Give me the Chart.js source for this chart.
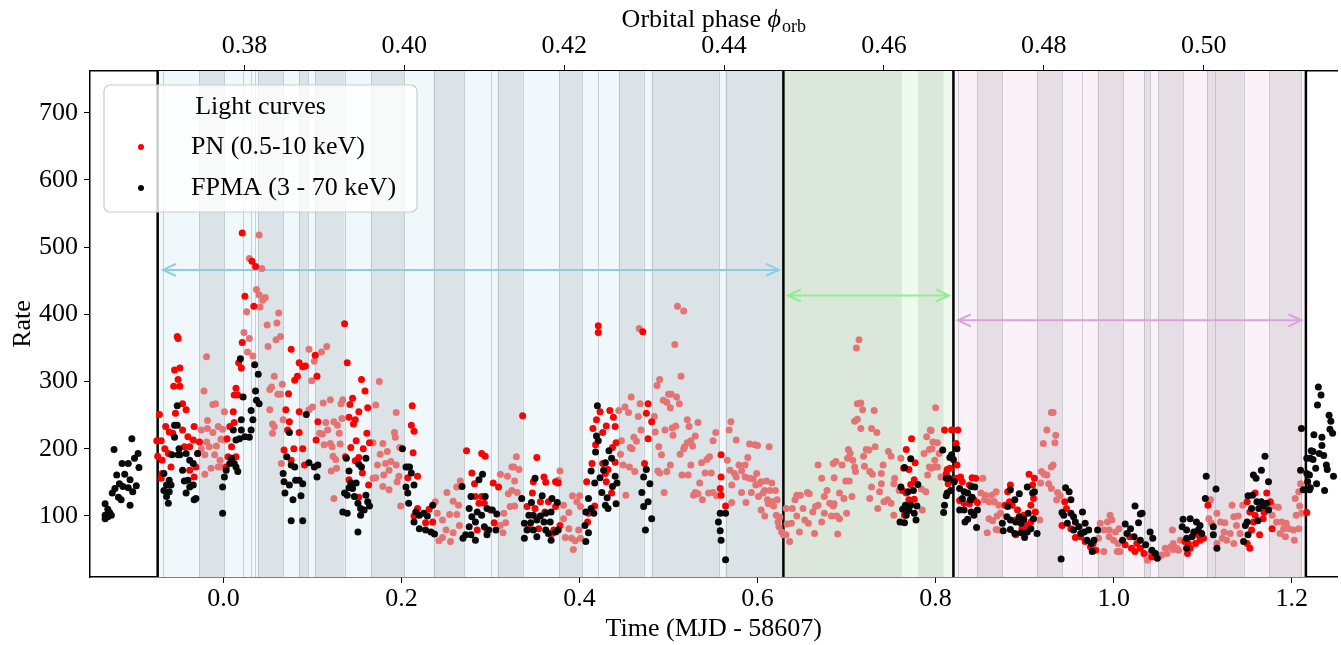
<!DOCTYPE html>
<html>
<head>
<meta charset="utf-8">
<script src="https://cdn.jsdelivr.net/npm/chart.js@4.4.1/dist/chart.umd.min.js"></script>
<style>
  html, body { margin: 0; padding: 0; background: #fff; }
  #c { display: block; }
</style>
</head>
<body>
<canvas id="c" width="1341" height="645"></canvas>
<script>
// axis ranges and ticks
const timeMin = -0.150, timeMax = 1.2515;
const rateMin = 9.2, rateMax = 762;
const timeTicks = [0.0, 0.2, 0.4, 0.6, 0.8, 1.0, 1.2];
const phaseTicks = [0.38, 0.40, 0.42, 0.44, 0.46, 0.48, 0.50];
const rateTicks = [100, 200, 300, 400, 500, 600, 700];
// orbital phase = phaseZero + phasePerDay * time
const phaseZero = 0.37738, phasePerDay = 0.11136;

// segment boundaries (time) and the darker sub-intervals inside each
const segLines = [-0.074, 0.629, 0.820, 1.216];
const blueBands = [[-0.027,0.001],[0.039,0.067],[0.085,0.095],[0.103,0.136],[0.166,0.203],[0.236,0.270],[0.308,0.336],[0.377,0.403],[0.444,0.472],[0.481,0.557],[0.564,0.629]];
const greenLight = [[0.762,0.780],[0.809,0.819]];
const pinkBands = [[0.847,0.875],[0.914,0.942],[0.982,1.011],[1.034,1.041],[1.050,1.078],[1.105,1.146],[1.175,1.211]];
const thinLines = [-0.068, 0.022, 0.031, 0.035, 0.301, 0.421, 0.825, 0.965, 1.114];
// arrows: [from, to, rate]
const arrowSpans = [[-0.068, 0.624, 466], [0.634, 0.815, 428], [0.825, 1.211, 391]];

// PN (0.5-10 keV) simultaneous points [time, rate]
const pnBright = [
[-0.072,251],[-0.075,212],[-0.070,212],[-0.074,189],[-0.069,183],[-0.065,233],[-0.061,225],[-0.066,200],[-0.062,193],[-0.057,223],[-0.052,367],[-0.051,364],[-0.055,317],[-0.049,320],[-0.056,293],[-0.049,293],[-0.051,303],[-0.046,267],[-0.042,258],[-0.054,253],[-0.046,228],[-0.040,218],[-0.038,203],[-0.044,203],[-0.034,213],[-0.033,233],[-0.031,173],[-0.029,193],[-0.059,173],[-0.069,163],[-0.070,156],[-0.038,168],[-0.033,158],[-0.027,210],[0.014,290],[0.012,280],[0.016,280],[0.011,255],[0.007,233],[0.012,239],[0.004,215],[0.009,203],[0.005,188],[0.014,188],[0.003,173],[0.020,320],[0.017,328],[0.021,521],[0.024,427],[0.034,412],[0.021,358],[0.032,479],[0.036,471],[0.073,282],[0.076,348],[0.085,328],[0.080,302],[0.083,308],[0.089,322],[0.070,258],[0.074,240],[0.085,255],[0.072,228],[0.085,224],[0.068,198],[0.079,200],[0.089,200],[0.076,183],[0.091,176],
[0.136,386],[0.139,328],[0.155,303],[0.159,286],[0.145,275],[0.142,266],[0.152,255],[0.162,261],[0.141,247],[0.148,243],[0.146,237],[0.161,223],[0.149,212],[0.143,202],[0.157,200],[0.164,209],[0.152,187],[0.148,182],[0.137,188],[0.156,164],[0.141,154],[0.163,146],[0.152,128],[0.212,264],[0.211,235],[0.214,226],[0.213,194],[0.207,173],[0.218,159],[0.207,157],[0.092,323],[0.103,339],[0.105,308],[0.106,240],[0.104,213],
[0.273,197],[0.290,193],[0.294,189],[0.279,164],[0.282,148],[0.303,149],[0.309,143],[0.287,119],[0.293,119],[0.290,129],[0.283,129],[0.300,109],[0.304,90],[0.285,79],[0.296,78],[0.218,111],[0.231,110],[0.227,90],[0.235,91],[0.214,100],
[0.336,249],[0.352,187],[0.348,151],[0.360,158],[0.362,150],[0.373,151],[0.376,149],[0.347,134],[0.356,121],[0.365,121],[0.341,114],[0.350,111],[0.361,106],[0.373,114],[0.343,81],[0.354,81],[0.371,79],[0.378,86],[0.369,74],
[0.421,383],[0.421,373],[0.423,255],[0.434,257],[0.419,243],[0.430,234],[0.438,247],[0.440,233],[0.415,230],[0.426,224],[0.418,206],[0.437,202],[0.441,209],[0.414,178],[0.426,178],[0.440,180],[0.432,169],[0.429,163],[0.408,151],[0.430,151],[0.436,134],[0.410,104],[0.417,115],[0.409,91],
[0.477,267],[0.475,253],[0.481,240],[0.477,215],[0.473,178],[0.471,374],[0.559,191],[0.559,158],[0.558,141],[0.559,131],[0.564,115],
[0.773,215],[0.767,199],[0.777,179],[0.770,169],[0.764,171],[0.776,154],[0.772,147],[0.763,138],[0.767,134],[0.770,124],[0.776,125],[0.769,114],[0.765,101],
[0.810,228],[0.818,228],[0.825,228],[0.823,208],[0.824,176],[0.813,169],[0.816,171],[0.812,163],[0.814,148],[0.823,156],[0.828,158],[0.830,151],[0.841,157],[0.845,156],[0.838,146],[0.847,120],[0.832,119],[0.838,118],[0.843,124],[0.827,123],
[0.884,146],[0.881,136],[0.883,121],[0.878,116],[0.886,116],[0.892,109],[0.899,101],[0.890,94],[0.899,90],[0.903,86],[0.890,72],[0.897,81],[0.905,162],[0.911,156],[0.909,146],[0.910,126],[0.907,116],[0.912,106],[0.907,91],
[0.945,121],[0.947,111],[0.942,86],[0.952,81],[0.957,68],[0.963,69],[0.968,62],[0.974,54],[0.977,59],[0.980,49],[1.013,57],[1.020,52],[1.024,47],[1.030,52],[1.018,69],[1.026,59],
[1.034,44],[1.043,39],[1.083,44],[1.086,52],[1.092,59],[1.097,64],[1.101,67],[1.084,59],[1.080,62],[1.095,72],[1.106,116],[1.153,52],[1.150,59],[1.155,79],[1.164,72],[1.157,91],[1.159,101],[1.153,106],[1.168,96],[1.172,134],[1.159,134],[1.150,121],[1.176,121],[1.169,105],[1.178,81],[1.217,105]
];

// PN points outside the NuSTAR coverage (drawn faint)
const pnFaint = [
[0.040,518],[0.029,483],[0.043,468],[0.037,437],[0.040,429],[0.044,421],[0.047,425],[0.041,411],[0.026,404],[0.023,373],[0.029,364],[0.027,344],[0.033,338],[-0.019,337],[0.049,384],[0.062,402],[0.060,387],[0.064,367],[0.050,352],[0.057,308],[0.054,292],[0.052,288],[0.061,281],[0.066,296],[0.064,281],[0.052,258],[0.055,237],[0.057,233],[0.055,223],[-0.022,286],[-0.012,266],[-0.009,267],[0.001,255],[-0.018,242],[-0.025,228],[-0.018,230],[-0.012,224],[-0.006,233],[-0.001,229],[0.001,213],[-0.003,214],[-0.019,210],[-0.025,200],[-0.016,203],[-0.008,204],[-0.021,191],[-0.010,191],[-0.004,183],[-0.006,173],[-0.014,171],[-0.021,162],[-0.003,173],[0.067,243],[0.065,178],[0.059,362],
[0.096,348],[0.110,344],[0.116,352],[0.102,330],[0.099,301],[0.100,262],[0.096,258],[0.112,268],[0.120,273],[0.134,273],[0.132,267],[0.133,245],[0.115,239],[0.124,240],[0.128,235],[0.117,228],[0.108,223],[0.111,222],[0.130,223],[0.120,208],[0.113,206],[0.122,203],[0.131,207],[0.123,189],[0.126,184],[0.127,171],[0.121,167],[0.175,300],[0.171,265],[0.168,209],[0.179,208],[0.176,192],[0.184,196],[0.192,224],[0.194,254],[0.193,217],[0.198,202],[0.173,176],[0.182,178],[0.188,181],[0.194,176],[0.186,168],[0.180,161],[0.168,156],[0.171,157],[0.197,159],[0.179,144],[0.186,139],[0.195,151],[0.199,115],[0.124,126],
[0.238,121],[0.251,135],[0.258,122],[0.262,143],[0.266,152],[0.264,116],[0.240,104],[0.246,94],[0.254,102],[0.262,102],[0.250,79],[0.258,75],[0.242,63],[0.246,68],[0.255,62],[0.265,86],[0.311,162],[0.319,159],[0.324,173],[0.320,133],[0.324,138],[0.315,104],[0.311,86],[0.317,90],[0.314,75],[0.322,114],
[0.329,188],[0.326,173],[0.332,169],[0.327,152],[0.330,135],[0.327,115],[0.378,167],[0.376,153],[0.382,116],[0.392,130],[0.400,130],[0.397,121],[0.401,114],[0.388,105],[0.382,96],[0.388,81],[0.384,68],[0.391,67],[0.395,63],[0.393,50],[0.399,79],[0.401,67],
[0.444,257],[0.451,262],[0.455,254],[0.458,277],[0.466,248],[0.468,267],[0.447,212],[0.446,192],[0.449,176],[0.456,173],[0.461,217],[0.464,211],[0.457,202],[0.459,200],[0.469,228],[0.462,166],[0.452,131],[0.467,379],
[0.485,225],[0.487,294],[0.490,303],[0.494,272],[0.498,269],[0.502,261],[0.500,281],[0.503,281],[0.509,277],[0.512,267],[0.514,308],[0.510,412],[0.517,405],[0.507,355],[0.489,203],[0.492,191],[0.496,228],[0.504,231],[0.508,234],[0.505,220],[0.502,176],[0.488,167],[0.490,164],[0.498,166],[0.495,135],[0.484,248],[0.513,192],[0.515,161],[0.518,203],[0.521,209],[0.525,212],[0.523,233],[0.521,243],[0.517,200],[0.527,204],[0.530,219],[0.533,239],[0.522,161],[0.525,176],[0.535,149],[0.530,135],[0.528,131],[0.538,124],[0.537,179],[0.543,184],[0.546,188],[0.541,164],[0.548,164],[0.550,212],[0.553,224],[0.545,134],[0.550,135],[0.554,130],[0.533,133],
[0.570,240],[0.568,228],[0.576,213],[0.566,183],[0.591,207],[0.597,206],[0.600,205],[0.613,203],[0.589,187],[0.579,176],[0.586,176],[0.569,168],[0.574,163],[0.582,167],[0.576,158],[0.586,158],[0.591,156],[0.599,163],[0.595,155],[0.604,151],[0.610,152],[0.616,149],[0.571,146],[0.598,146],[0.602,148],[0.582,135],[0.593,135],[0.608,138],[0.614,138],[0.620,138],[0.601,129],[0.606,134],[0.611,124],[0.616,121],[0.622,124],[0.571,120],[0.587,120],[0.612,118],[0.618,115],[0.604,109],[0.608,100],[0.621,101],[0.625,98],[0.623,91],[0.624,84],[0.627,76],[0.629,72],
[0.632,111],[0.639,111],[0.644,131],[0.642,124],[0.648,131],[0.656,135],[0.658,133],[0.633,88],[0.636,62],[0.632,72],[0.638,89],[0.644,100],[0.651,111],[0.653,94],[0.657,89],[0.647,76],[0.664,74],[0.662,106],[0.665,114],[0.668,116],[0.672,156],[0.668,176],[0.675,104],[0.672,91],[0.675,129],[0.678,138],[0.681,119],[0.685,115],[0.683,100],[0.686,118],[0.685,178],[0.688,181],[0.686,157],[0.690,73],[0.689,100],[0.692,96],[0.692,134],[0.697,126],[0.700,104],[0.695,176],[0.701,186],[0.702,199],[0.704,193],[0.707,183],[0.709,173],[0.710,166],[0.699,152],[0.703,152],[0.706,129],[0.711,350],[0.714,362],[0.712,267],[0.716,268],[0.718,258],[0.709,241],[0.712,244],[0.716,230],[0.731,257],[0.728,230],[0.734,224],[0.722,199],[0.719,189],[0.725,198],[0.732,203],[0.720,174],[0.726,166],[0.729,162],[0.728,143],[0.739,163],[0.741,176],[0.739,148],[0.737,136],[0.726,126],[0.742,121],[0.735,111],[0.746,124],[0.750,119],[0.747,196],[0.750,189],[0.754,156],[0.753,148],[0.753,101],[0.761,186],[0.785,109],[0.784,140],[0.789,136],[0.787,193],[0.790,218],[0.795,227],[0.793,199],[0.791,161],[0.795,171],[0.759,138],
[0.800,261],[0.794,228],[0.797,210],[0.802,209],[0.796,200],[0.804,193],[0.799,183],[0.793,173],[0.799,173],[0.802,173],[0.806,158],
[0.853,156],[0.851,134],[0.856,131],[0.863,131],[0.868,136],[0.855,124],[0.860,121],[0.866,121],[0.871,116],[0.860,96],[0.864,93],[0.869,100],[0.873,104],[0.858,75],[0.870,79],[0.868,80],
[0.930,254],[0.932,254],[0.925,228],[0.921,208],[0.935,220],[0.934,209],[0.932,176],[0.930,173],[0.919,166],[0.922,162],[0.925,161],[0.918,149],[0.927,148],[0.930,141],[0.937,135],[0.940,130],[0.936,124],[0.917,94],
[0.985,89],[0.993,91],[0.996,101],[0.998,94],[0.989,79],[0.995,79],[1.002,76],[1.006,81],[0.995,69],[1.000,64],[1.005,59],[0.983,67],[0.989,47],[1.004,47],[1.007,47],
[1.038,34],[1.041,44],[1.051,39],[1.054,42],[1.060,44],[1.058,52],[1.064,54],[1.067,59],[1.071,52],[1.073,49],[1.075,64],[1.066,79],[1.067,50],[1.109,124],[1.107,96],[1.110,89],[1.116,104],[1.120,91],[1.125,90],[1.133,116],[1.135,99],[1.138,86],[1.124,76],[1.131,74],[1.122,67],[1.127,64],[1.135,59],[1.116,59],[1.140,100],[1.142,74],[1.145,116],[1.179,115],[1.185,113],[1.178,101],[1.183,91],[1.189,91],[1.194,89],[1.191,81],[1.197,81],[1.202,79],[1.187,74],[1.193,69],[1.203,64],[1.208,81],[1.204,126],[1.208,136],[1.209,115],[1.205,101],[1.210,148],[1.211,104]
];

// FPMA (3 - 70 keV) [time, rate]
const fpma = [
[-0.103,215],[-0.123,199],[-0.096,193],[-0.100,186],[-0.114,178],[-0.107,178],[-0.095,172],[-0.120,161],[-0.111,162],[-0.105,154],[-0.117,148],[-0.113,144],[-0.098,145],[-0.122,141],[-0.107,142],[-0.102,136],[-0.125,134],[-0.118,128],[-0.115,124],[-0.105,116],[-0.133,118],[-0.130,110],[-0.128,105],[-0.133,101],[-0.126,101],[-0.133,96],[-0.130,99],
[-0.052,264],[-0.055,235],[-0.052,235],[-0.055,217],[-0.050,200],[-0.051,191],[-0.049,191],[-0.058,191],[-0.042,193],[-0.038,183],[-0.034,178],[-0.046,168],[-0.029,193],[-0.067,163],[-0.061,153],[-0.059,146],[-0.040,153],[-0.034,146],[-0.044,152],[-0.038,143],[-0.031,126],[-0.033,124],[-0.064,146],[-0.064,129],[-0.062,119],[-0.067,138],[-0.061,136],[-0.042,134],[0.001,158],[-0.001,143],[0.003,168],[0.011,228],[0.014,213],[0.018,215],[0.020,228],[0.024,218],[0.029,217],[0.031,228],[0.033,243],[0.031,257],[0.022,277],[0.020,243],[0.014,173],[0.009,186],[0.007,178],[0.012,178],[0.016,166],[0.019,334],[0.035,325],[0.039,311],[0.036,286],[0.037,272],[0.040,267],[-0.001,104],[0.067,163],[0.074,224],[0.071,188],[0.076,176],[0.080,173],[0.081,153],[0.085,153],[0.089,148],[0.074,146],[0.078,124],[0.087,130],[0.076,93],[0.089,93],[0.069,134],[0.068,151],
[0.093,251],[0.096,179],[0.106,176],[0.102,173],[0.105,158],[0.138,186],[0.141,167],[0.152,177],[0.155,173],[0.160,186],[0.136,134],[0.143,149],[0.145,141],[0.149,149],[0.141,142],[0.139,131],[0.147,129],[0.151,119],[0.154,111],[0.160,131],[0.162,121],[0.158,109],[0.164,115],[0.154,101],[0.134,106],[0.139,104],[0.151,76],
[0.201,200],[0.205,173],[0.209,173],[0.211,164],[0.214,146],[0.205,143],[0.207,134],[0.208,119],[0.216,106],[0.220,101],[0.225,104],[0.229,100],[0.214,91],[0.220,81],[0.227,79],[0.233,76],[0.237,73],[0.235,116],
[0.268,144],[0.278,129],[0.287,154],[0.291,162],[0.294,129],[0.276,111],[0.279,99],[0.285,106],[0.290,101],[0.296,111],[0.302,109],[0.307,103],[0.276,84],[0.283,91],[0.293,84],[0.298,79],[0.306,79],[0.272,72],[0.278,72],[0.283,64],[0.296,72],[0.269,67],
[0.335,126],[0.338,67],[0.350,156],[0.358,130],[0.346,120],[0.369,126],[0.375,120],[0.343,101],[0.348,101],[0.356,100],[0.362,104],[0.368,106],[0.338,89],[0.345,90],[0.352,94],[0.360,91],[0.367,91],[0.341,79],[0.348,79],[0.362,79],[0.365,74],[0.373,76],[0.376,79],[0.352,69],[0.368,64],
[0.410,126],[0.413,111],[0.416,104],[0.407,106],[0.406,86],[0.410,75],[0.407,62],[0.420,264],[0.419,219],[0.421,212],[0.418,195],[0.413,167],[0.417,149],[0.423,157],[0.433,197],[0.436,186],[0.429,179],[0.427,168],[0.440,159],[0.442,149],[0.437,144],[0.425,135],[0.431,127],[0.429,116],[0.432,111],[0.441,118],
[0.475,169],[0.472,158],[0.479,148],[0.470,135],[0.477,121],[0.472,114],[0.481,96],[0.474,79],
[0.558,104],[0.556,91],[0.558,78],[0.559,64],[0.564,104],[0.564,35],
[0.772,185],[0.765,172],[0.775,138],[0.780,147],[0.769,136],[0.761,143],[0.766,116],[0.772,116],[0.779,115],[0.770,108],[0.776,104],[0.767,101],[0.763,110],[0.760,91],[0.765,90],[0.778,94],
[0.808,198],[0.818,191],[0.824,200],[0.816,187],[0.820,184],[0.812,156],[0.815,156],[0.817,138],[0.813,134],[0.812,130],[0.810,116],[0.809,105],[0.821,151],[0.827,141],[0.832,136],[0.836,134],[0.840,144],[0.844,143],[0.841,128],[0.830,126],[0.839,124],[0.832,109],[0.827,109],[0.840,106],[0.847,109],[0.843,101],[0.836,95],[0.833,91],[0.846,83],
[0.884,139],[0.894,133],[0.903,143],[0.909,134],[0.911,136],[0.889,124],[0.881,114],[0.880,99],[0.884,94],[0.894,99],[0.899,95],[0.890,91],[0.896,89],[0.904,104],[0.910,96],[0.907,81],[0.903,76],[0.884,80],[0.889,74],[0.896,75],[0.900,68],[0.875,89],[0.876,78],[0.914,74],
[0.946,142],[0.950,136],[0.952,124],[0.952,104],[0.944,101],[0.955,99],[0.965,106],[0.948,89],[0.957,91],[0.961,84],[0.968,89],[0.967,76],[0.972,79],[0.955,79],[0.963,74],[0.970,64],[0.978,64],[0.975,59],[0.976,47],[0.982,79],[0.941,36],[0.942,105],
[1.024,115],[1.030,103],[1.013,88],[1.019,81],[1.028,90],[1.015,74],[1.023,69],[1.010,64],[1.030,64],
[1.032,104],[1.041,76],[1.044,67],[1.047,44],[1.049,37],[1.043,49],[1.036,57],
[1.104,159],[1.115,140],[1.103,126],[1.078,95],[1.086,96],[1.077,84],[1.093,91],[1.097,86],[1.082,79],[1.090,76],[1.095,79],[1.099,74],[1.082,67],[1.088,69],[1.082,52],[1.112,84],[1.112,72],[1.116,52],
[1.170,189],[1.166,168],[1.157,161],[1.160,156],[1.174,151],[1.151,130],[1.156,131],[1.161,121],[1.166,121],[1.172,119],[1.155,111],[1.163,111],[1.168,115],[1.174,109],[1.150,91],[1.148,86],[1.151,72],[1.146,62],[1.162,93],
[1.211,230],[1.210,168],[1.213,139],[1.217,163],
[1.230,292],[1.233,280],[1.229,265],[1.242,250],[1.244,241],[1.243,229],[1.246,223],[1.225,221],[1.234,217],[1.234,205],[1.222,197],[1.224,196],[1.231,193],[1.236,190],[1.217,186],[1.221,186],[1.224,184],[1.239,176],[1.227,171],[1.240,169],[1.247,159],[1.220,161],[1.218,151],[1.228,148],[1.220,139],[1.221,142],[1.237,138]
];

const FONT = '"Liberation Serif", "DejaVu Serif", serif';
const FS = 26;
const toXY = arr => arr.map(([x, y]) => ({ x, y }));
const phaseOf = t => phaseZero + phasePerDay * t;

const regionStyle = {
  blue: '#f0f8fc', blueBand: '#dce3e7',
  green: '#dce7dc', greenLight: '#effaef',
  pink: '#faf2f9', pinkBand: '#e5dee4',
  edge: 'rgba(150,160,165,0.45)'
};
const arrowColors = ['#87ceeb', '#90ee90', '#dda0dd'];

const backdrop = {
  id: 'backdrop',
  beforeDatasetsDraw(chart) {
    const { ctx, chartArea: a, scales } = chart;
    const xs = scales.x, ys = scales.y;
    const px = v => xs.getPixelForValue(v);
    ctx.save();
    ctx.beginPath();
    ctx.rect(a.left, a.top, a.right - a.left, a.bottom - a.top);
    ctx.clip();
    const fill = (t0, t1, col) => {
      ctx.fillStyle = col;
      ctx.fillRect(px(t0), a.top, px(t1) - px(t0), a.bottom - a.top);
    };
    const edge = t => {
      ctx.strokeStyle = regionStyle.edge;
      ctx.lineWidth = 1;
      ctx.beginPath();
      ctx.moveTo(Math.round(px(t)) + 0.5, a.top);
      ctx.lineTo(Math.round(px(t)) + 0.5, a.bottom);
      ctx.stroke();
    };
    fill(segLines[0], segLines[1], regionStyle.blue);
    fill(segLines[1], segLines[2], regionStyle.green);
    fill(segLines[2], segLines[3], regionStyle.pink);
    blueBands.forEach(([t0, t1]) => { fill(t0, t1, regionStyle.blueBand); edge(t0); edge(t1); });
    greenLight.forEach(([t0, t1]) => fill(t0, t1, regionStyle.greenLight));
    pinkBands.forEach(([t0, t1]) => { fill(t0, t1, regionStyle.pinkBand); edge(t0); edge(t1); });
    thinLines.forEach(edge);

    // segment boundaries
    ctx.strokeStyle = '#000';
    ctx.lineWidth = 2.5;
    segLines.forEach(t => {
      ctx.beginPath();
      ctx.moveTo(px(t), a.top);
      ctx.lineTo(px(t), a.bottom);
      ctx.stroke();
    });

    // double-headed arrows
    arrowSpans.forEach(([t0, t1, r], i) => {
      const x0 = px(t0), x1 = px(t1), y = ys.getPixelForValue(r);
      ctx.strokeStyle = arrowColors[i];
      ctx.lineWidth = 2;
      ctx.beginPath();
      ctx.moveTo(x0, y); ctx.lineTo(x1, y);
      ctx.moveTo(x0 + 13, y - 6); ctx.lineTo(x0, y); ctx.lineTo(x0 + 13, y + 6);
      ctx.moveTo(x1 - 13, y - 6); ctx.lineTo(x1, y); ctx.lineTo(x1 - 13, y + 6);
      ctx.stroke();
    });
    ctx.restore();
  }
};

const overlay = {
  id: 'overlay',
  afterDraw(chart) {
    const { ctx, chartArea: a } = chart;
    ctx.save();
    // top axis title with subscript
    const main = 'Orbital phase ';
    ctx.font = FS + 'px ' + FONT;
    const w1 = ctx.measureText(main).width;
    ctx.font = 'italic ' + FS + 'px ' + FONT;
    const w2 = ctx.measureText('\u03D5').width;
    ctx.font = '18px ' + FONT;
    const w3 = ctx.measureText('orb').width;
    let x = (a.left + a.right) / 2 - (w1 + w2 + w3 + 1) / 2;
    const y = 20;
    ctx.fillStyle = '#000';
    ctx.textBaseline = 'middle';
    ctx.textAlign = 'left';
    ctx.font = FS + 'px ' + FONT;
    ctx.fillText(main, x, y); x += w1;
    ctx.font = 'italic ' + FS + 'px ' + FONT;
    ctx.fillText('\u03D5', x, y); x += w2 + 1;
    ctx.font = '18px ' + FONT;
    ctx.fillText('orb', x, y + 7);

    // legend box inside the axes
    const bx = a.left + 14, by = a.top + 14, bw = 313, bh = 127;
    ctx.beginPath();
    ctx.roundRect(bx, by, bw, bh, 6);
    ctx.fillStyle = 'rgba(255,255,255,0.8)';
    ctx.fill();
    ctx.strokeStyle = '#cccccc';
    ctx.lineWidth = 1.2;
    ctx.stroke();
    ctx.fillStyle = '#000';
    ctx.textAlign = 'center';
    ctx.font = FS + 'px ' + FONT;
    ctx.fillText('Light curves', bx + bw / 2, by + 22);
    const items = chart.data.datasets.filter(d => d.legendRank).sort((p, q) => p.legendRank - q.legendRank);
    items.forEach((d, i) => {
      const ly = by + 62 + i * 41;
      ctx.beginPath();
      ctx.arc(bx + 37, ly, 3, 0, Math.PI * 2);
      ctx.fillStyle = d.backgroundColor;
      ctx.fill();
      ctx.fillStyle = '#000';
      ctx.textAlign = 'left';
      ctx.fillText(d.label, bx + 87, ly);
    });
    ctx.restore();
  }
};

const tickFont = { family: FONT, size: FS };
const axisCommon = {
  grid: { drawOnChartArea: false, color: '#000', tickLength: 6, tickWidth: 1 },
  border: { color: '#000', width: 1.5 }
};

new Chart(document.getElementById('c'), {
  type: 'scatter',
  data: {
    datasets: [
      { label: 'FPMA (3 - 70 keV)', data: toXY(fpma), backgroundColor: '#0a0a0a', legendRank: 2, order: 0 },
      { label: 'PN (0.5-10 keV)', data: toXY(pnBright), backgroundColor: '#ff0000', legendRank: 1, order: 1 },
      { label: 'PN faint', data: toXY(pnFaint), backgroundColor: '#e57373', legendRank: 0, order: 2 }
    ].map(d => Object.assign(d, { pointRadius: 3.5, pointHoverRadius: 3.5, borderWidth: 0 }))
  },
  options: {
    responsive: false,
    animation: false,
    devicePixelRatio: 1,
    layout: { padding: 0 },
    plugins: { legend: { display: false }, tooltip: { enabled: false } },
    events: [],
    scales: {
      x: Object.assign({}, axisCommon, {
        type: 'linear', position: 'bottom', min: timeMin, max: timeMax,
        afterBuildTicks: s => { s.ticks = timeTicks.map(v => ({ value: v })); },
        afterFit: s => { s.height = 68; },
        ticks: { font: tickFont, color: '#000', padding: 1, maxRotation: 0, autoSkip: false, callback: v => v.toFixed(1) },
        title: { display: true, text: 'Time (MJD - 58607)', font: tickFont, color: '#000', padding: { top: 0, bottom: 0 } }
      }),
      x2: Object.assign({}, axisCommon, {
        type: 'linear', position: 'top', min: phaseOf(timeMin), max: phaseOf(timeMax),
        afterBuildTicks: s => { s.ticks = phaseTicks.map(v => ({ value: v })); },
        afterFit: s => { s.height = 71; },
        ticks: { font: tickFont, color: '#000', padding: 3, maxRotation: 0, autoSkip: false, callback: v => v.toFixed(2) }
      }),
      y: Object.assign({}, axisCommon, {
        type: 'linear', position: 'left', min: rateMin, max: rateMax,
        afterBuildTicks: s => { s.ticks = rateTicks.map(v => ({ value: v })); },
        afterFit: s => { s.width = 90; },
        ticks: { font: tickFont, color: '#000', padding: 6, autoSkip: false },
        title: { display: true, text: 'Rate', font: tickFont, color: '#000', padding: { top: 8, bottom: 4 } }
      })
    }
  },
  plugins: [backdrop, overlay]
});
</script>
</body>
</html>
